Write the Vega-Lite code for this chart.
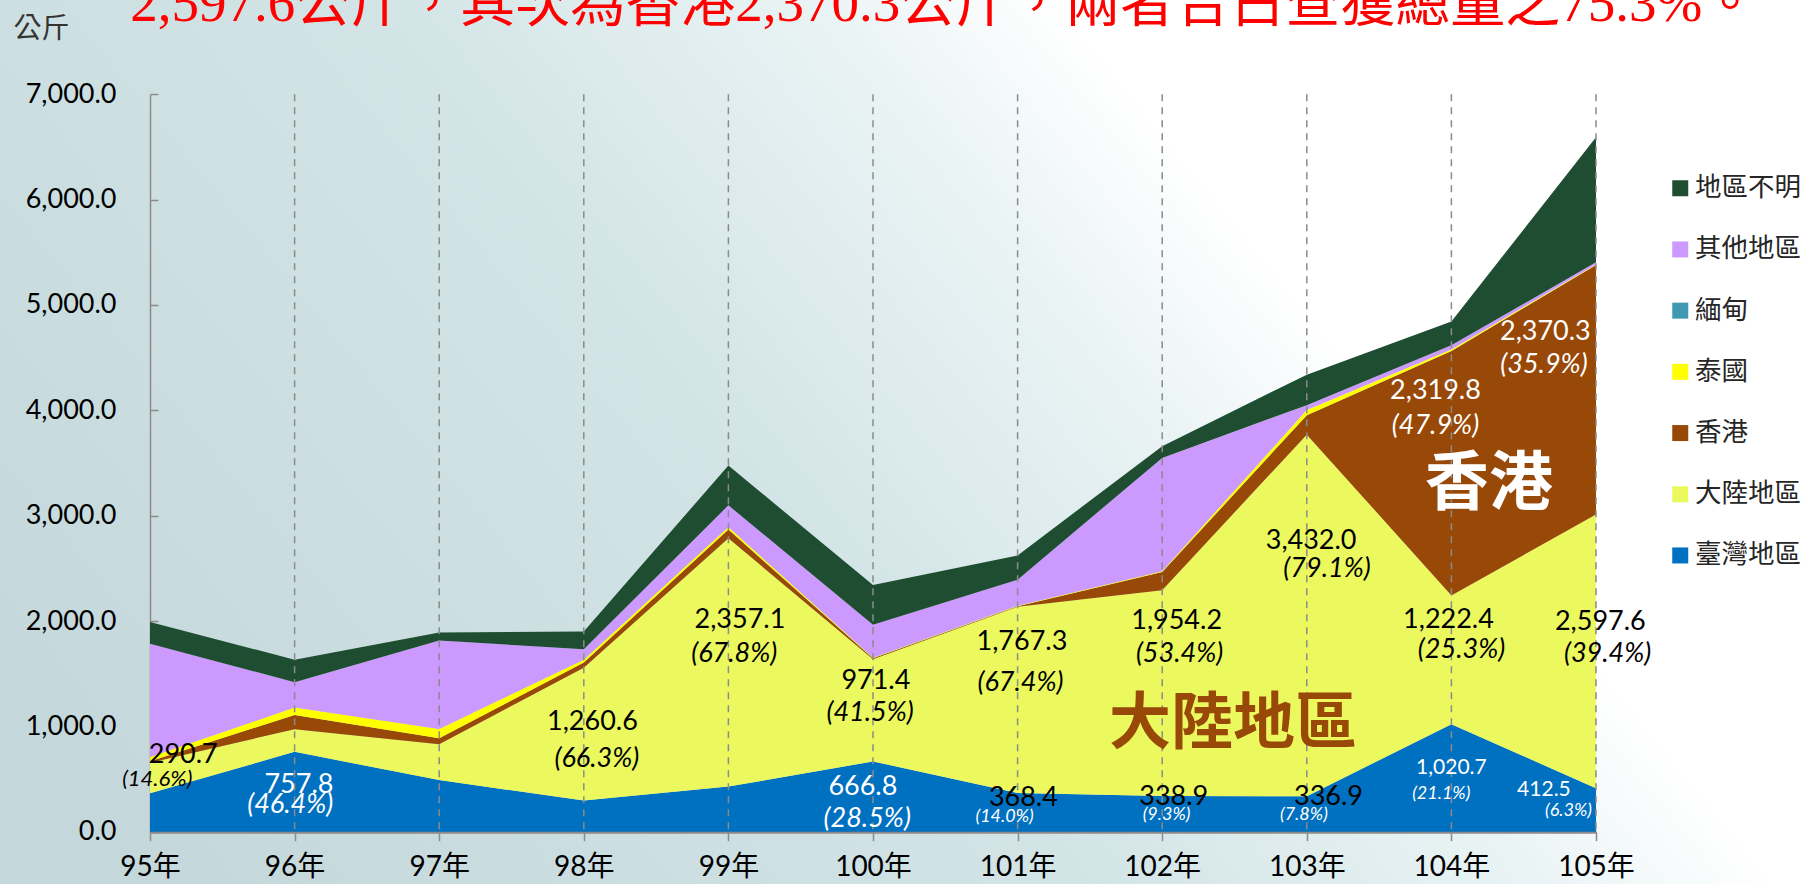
{"$schema":"https://vega.github.io/schema/vega-lite/v6.json","width":1804,"height":884,"autosize":"none","padding":0,"background":"#ffffff","view":{"stroke":null,"fill":{"gradient":"linear","x1":0,"y1":0.8,"x2":1,"y2":0.4,"stops":[{"offset":0,"color":"#c4d7da"},{"offset":0.45,"color":"#d2e4e6"},{"offset":0.66,"color":"#e9f3f4"},{"offset":0.78,"color":"#ffffff"},{"offset":1,"color":"#ffffff"}]}},"config":{"font":"Lato","text":{"font":"Lato, Noto Sans CJK TC"}},
"datasets":{"area":[
{"年":95,"地區":"臺灣地區","序":1,"值":365},{"年":95,"地區":"大陸地區","序":2,"值":290.7},{"年":95,"地區":"香港","序":3,"值":14},{"年":95,"地區":"泰國","序":4,"值":40},{"年":95,"地區":"緬甸","序":5,"值":0},{"年":95,"地區":"其他地區","序":6,"值":1074},{"年":95,"地區":"地區不明","序":7,"值":207},
{"年":96,"地區":"臺灣地區","序":1,"值":757.8},{"年":96,"地區":"大陸地區","序":2,"值":215},{"年":96,"地區":"香港","序":3,"值":136},{"年":96,"地區":"泰國","序":4,"值":70},{"年":96,"地區":"緬甸","序":5,"值":0},{"年":96,"地區":"其他地區","序":6,"值":241},{"年":96,"地區":"地區不明","序":7,"值":213},
{"年":97,"地區":"臺灣地區","序":1,"值":490},{"年":97,"地區":"大陸地區","序":2,"值":341},{"年":97,"地區":"香港","序":3,"值":57},{"年":97,"地區":"泰國","序":4,"值":88},{"年":97,"地區":"緬甸","序":5,"值":0},{"年":97,"地區":"其他地區","序":6,"值":839},{"年":97,"地區":"地區不明","序":7,"值":76},
{"年":98,"地區":"臺灣地區","序":1,"值":295},{"年":98,"地區":"大陸地區","序":2,"值":1260.6},{"年":98,"地區":"香港","序":3,"值":50},{"年":98,"地區":"泰國","序":4,"值":26},{"年":98,"地區":"緬甸","序":5,"值":0},{"年":98,"地區":"其他地區","序":6,"值":101},{"年":98,"地區":"地區不明","序":7,"值":168},
{"年":99,"地區":"臺灣地區","序":1,"值":428},{"年":99,"地區":"大陸地區","序":2,"值":2357.1},{"年":99,"地區":"香港","序":3,"值":83},{"年":99,"地區":"泰國","序":4,"值":24},{"年":99,"地區":"緬甸","序":5,"值":0},{"年":99,"地區":"其他地區","序":6,"值":206},{"年":99,"地區":"地區不明","序":7,"值":378},
{"年":100,"地區":"臺灣地區","序":1,"值":666.8},{"年":100,"地區":"大陸地區","序":2,"值":971.4},{"年":100,"地區":"香港","序":3,"值":8},{"年":100,"地區":"泰國","序":4,"值":4},{"年":100,"地區":"緬甸","序":5,"值":0},{"年":100,"地區":"其他地區","序":6,"值":315},{"年":100,"地區":"地區不明","序":7,"值":376},
{"年":101,"地區":"臺灣地區","序":1,"值":368.4},{"年":101,"地區":"大陸地區","序":2,"值":1767.3},{"年":101,"地區":"香港","序":3,"值":5},{"年":101,"地區":"泰國","序":4,"值":5},{"年":101,"地區":"緬甸","序":5,"值":0},{"年":101,"地區":"其他地區","序":6,"值":247},{"年":101,"地區":"地區不明","序":7,"值":230},
{"年":102,"地區":"臺灣地區","序":1,"值":338.9},{"年":102,"地區":"大陸地區","序":2,"值":1954.2},{"年":102,"地區":"香港","序":3,"值":172},{"年":102,"地區":"泰國","序":4,"值":8},{"年":102,"地區":"緬甸","序":5,"值":0},{"年":102,"地區":"其他地區","序":6,"值":1075},{"年":102,"地區":"地區不明","序":7,"值":112},
{"年":103,"地區":"臺灣地區","序":1,"值":336.9},{"年":103,"地區":"大陸地區","序":2,"值":3432.0},{"年":103,"地區":"香港","序":3,"值":185},{"年":103,"地區":"泰國","序":4,"值":50},{"年":103,"地區":"緬甸","序":5,"值":0},{"年":103,"地區":"其他地區","序":6,"值":45},{"年":103,"地區":"地區不明","序":7,"值":290},
{"年":104,"地區":"臺灣地區","序":1,"值":1020.7},{"年":104,"地區":"大陸地區","序":2,"值":1222.4},{"年":104,"地區":"香港","序":3,"值":2319.8},{"年":104,"地區":"泰國","序":4,"值":15},{"年":104,"地區":"緬甸","序":5,"值":0},{"年":104,"地區":"其他地區","序":6,"值":39},{"年":104,"地區":"地區不明","序":7,"值":226},
{"年":105,"地區":"臺灣地區","序":1,"值":412.5},{"年":105,"地區":"大陸地區","序":2,"值":2597.6},{"年":105,"地區":"香港","序":3,"值":2370.3},{"年":105,"地區":"泰國","序":4,"值":5},{"年":105,"地區":"緬甸","序":5,"值":0},{"年":105,"地區":"其他地區","序":6,"值":20},{"年":105,"地區":"地區不明","序":7,"值":1188}
],
"labels":[
{"組":"a","文":"290.7","年":95.23,"值":732},{"組":"g","文":"(14.6%)","年":95.05,"值":505},
{"組":"c","文":"757.8","年":96.03,"值":447},{"組":"d","文":"(46.4%)","年":95.97,"值":250},
{"組":"a","文":"1,260.6","年":98.06,"值":1038},{"組":"b","文":"(66.3%)","年":98.09,"值":688},
{"組":"a","文":"2,357.1","年":99.08,"值":2011},{"組":"b","文":"(67.8%)","年":99.04,"值":1683},
{"組":"a","文":"971.4","年":100.02,"值":1431},{"組":"b","文":"(41.5%)","年":99.98,"值":1125},
{"組":"c","文":"666.8","年":99.93,"值":425},{"組":"d","文":"(28.5%)","年":99.96,"值":119},
{"組":"a","文":"1,767.3","年":101.03,"值":1803},{"組":"b","文":"(67.4%)","年":101.02,"值":1410},
{"組":"a","文":"368.4","年":101.04,"值":316},{"組":"f","文":"(14.0%)","年":100.91,"值":141},
{"組":"a","文":"1,954.2","年":102.1,"值":2000},{"組":"b","文":"(53.4%)","年":102.12,"值":1683},
{"組":"a","文":"338.9","年":102.08,"值":327},{"組":"f","文":"(9.3%)","年":102.03,"值":163},
{"組":"a","文":"3,432.0","年":103.03,"值":2755},{"組":"b","文":"(79.1%)","年":103.14,"值":2492},
{"組":"a","文":"336.9","年":103.15,"值":327},{"組":"f","文":"(7.8%)","年":102.98,"值":163},
{"組":"a","文":"1,222.4","年":103.98,"值":2011},{"組":"b","文":"(25.3%)","年":104.07,"值":1727},
{"組":"e","文":"1,020.7","年":104.0,"值":600},{"組":"f","文":"(21.1%)","年":103.93,"值":360},
{"組":"a","文":"2,597.6","年":105.03,"值":1989},{"組":"b","文":"(39.4%)","年":105.08,"值":1683},
{"組":"e","文":"412.5","年":104.64,"值":392},{"組":"f","文":"(6.3%)","年":104.81,"值":196},
{"組":"c","文":"2,319.8","年":103.89,"值":4187},{"組":"d","文":"(47.9%)","年":103.89,"值":3848},
{"組":"c","文":"2,370.3","年":104.65,"值":4745},{"組":"d","文":"(35.9%)","年":104.64,"值":4428}
],
"years":[{"年":96,"上":7000,"下":0},{"年":97,"上":7000,"下":0},{"年":98,"上":7000,"下":0},{"年":99,"上":7000,"下":0},{"年":100,"上":7000,"下":0},{"年":101,"上":7000,"下":0},{"年":102,"上":7000,"下":0},{"年":103,"上":7000,"下":0},{"年":104,"上":7000,"下":0},{"年":105,"上":7000,"下":0}]},
"encoding":{
"x":{"field":"年","type":"quantitative","title":null,"scale":{"domain":[95,105],"range":[150,1596],"nice":false,"zero":false},"axis":{"values":[95,96,97,98,99,100,101,102,103,104,105],"labelExpr":"datum.value + '年'","offset":-52.3,"grid":false,"tickSize":9,"tickColor":"#8c8a8a","tickWidth":1.5,"domainColor":"#8c8a8a","domainWidth":3,"labelFont":"Lato, Noto Sans CJK TC","labelFontSize":28,"labelColor":"#000000","labelPadding":13,"labelFlush":false,"labelOverlap":false}},
"y":{"field":"值","type":"quantitative","title":null,"scale":{"domain":[0,7000],"range":[831.7,94.3],"nice":false},"axis":{"values":[0,1000,2000,3000,4000,5000,6000,7000],"format":",.1f","offset":-150,"grid":false,"tickSize":-8,"tickColor":"#8c8a8a","tickWidth":1.5,"domainColor":"#8c8a8a","domainWidth":1.5,"labelFont":"Lato","labelFontSize":27,"labelColor":"#000000","labelPadding":42,"labelOverlap":false}}},
"layer":[
{"data":{"name":"area"},"mark":{"type":"area","interpolate":"linear"},"encoding":{"color":{"field":"地區","type":"nominal","scale":{"domain":["地區不明","其他地區","緬甸","泰國","香港","大陸地區","臺灣地區"],"range":["#1f4d32","#cc99ff","#4099b3","#ffff00","#984807","#ebf95f","#0070c0"]},"legend":{"orient":"none","legendX":1667,"legendY":175,"title":null,"symbolType":"square","symbolSize":256,"symbolStrokeWidth":0,"labelFont":"Noto Sans CJK TC","labelFontSize":26.5,"labelColor":"#262626","labelOffset":1.5,"labelLimit":200,"rowPadding":34.2}},"order":{"field":"序"}}},
{"data":{"name":"years"},"mark":{"type":"rule","stroke":"#8c8a8a","strokeWidth":1.5,"strokeDash":[7,6]},"encoding":{"y":{"field":"上"},"y2":{"field":"下"}}},
{"data":{"name":"labels"},"transform":[{"filter":"datum['組']=='a'"}],"mark":{"type":"text","fontSize":27,"color":"#000000","baseline":"middle"},"encoding":{"text":{"field":"文"}}},
{"data":{"name":"labels"},"transform":[{"filter":"datum['組']=='b'"}],"mark":{"type":"text","fontSize":27,"color":"#000000","fontStyle":"italic","baseline":"middle"},"encoding":{"text":{"field":"文"}}},
{"data":{"name":"labels"},"transform":[{"filter":"datum['組']=='c'"}],"mark":{"type":"text","fontSize":27,"color":"#ffffff","baseline":"middle"},"encoding":{"text":{"field":"文"}}},
{"data":{"name":"labels"},"transform":[{"filter":"datum['組']=='d'"}],"mark":{"type":"text","fontSize":27,"color":"#ffffff","fontStyle":"italic","baseline":"middle"},"encoding":{"text":{"field":"文"}}},
{"data":{"name":"labels"},"transform":[{"filter":"datum['組']=='e'"}],"mark":{"type":"text","fontSize":21,"color":"#ffffff","baseline":"middle"},"encoding":{"text":{"field":"文"}}},
{"data":{"name":"labels"},"transform":[{"filter":"datum['組']=='f'"}],"mark":{"type":"text","fontSize":18,"color":"#ffffff","fontStyle":"italic","baseline":"middle"},"encoding":{"text":{"field":"文"}}},
{"data":{"name":"labels"},"transform":[{"filter":"datum['組']=='g'"}],"mark":{"type":"text","fontSize":22,"color":"#000000","fontStyle":"italic","baseline":"middle"},"encoding":{"text":{"field":"文"}}},
{"data":{"values":[{"文":"大陸地區","年":102.49,"值":1016}]},"mark":{"type":"text","fontSize":62,"font":"Noto Sans CJK TC","fontWeight":"bold","color":"#984807","baseline":"middle"},"encoding":{"text":{"field":"文"}}},
{"data":{"values":[{"文":"香港","年":104.26,"值":3290}]},"mark":{"type":"text","fontSize":64,"font":"Noto Sans CJK TC","fontWeight":"bold","color":"#ffffff","baseline":"middle"},"encoding":{"text":{"field":"文"}}},
{"data":{"values":[{"文":"公斤","年":94.25,"值":7610}]},"mark":{"type":"text","fontSize":28,"font":"Noto Sans CJK TC","color":"#333333","baseline":"middle"},"encoding":{"text":{"field":"文"}}},
{"data":{"values":[{"文":"2,597.6公斤，其次為香港2,370.3公斤，兩者合占查獲總量之75.3%。","年":100.49,"值":7860}]},"mark":{"type":"text","fontSize":55,"font":"Liberation Serif, Noto Sans CJK TC","color":"#ff0000","baseline":"middle"},"encoding":{"text":{"field":"文"}}}
]}
